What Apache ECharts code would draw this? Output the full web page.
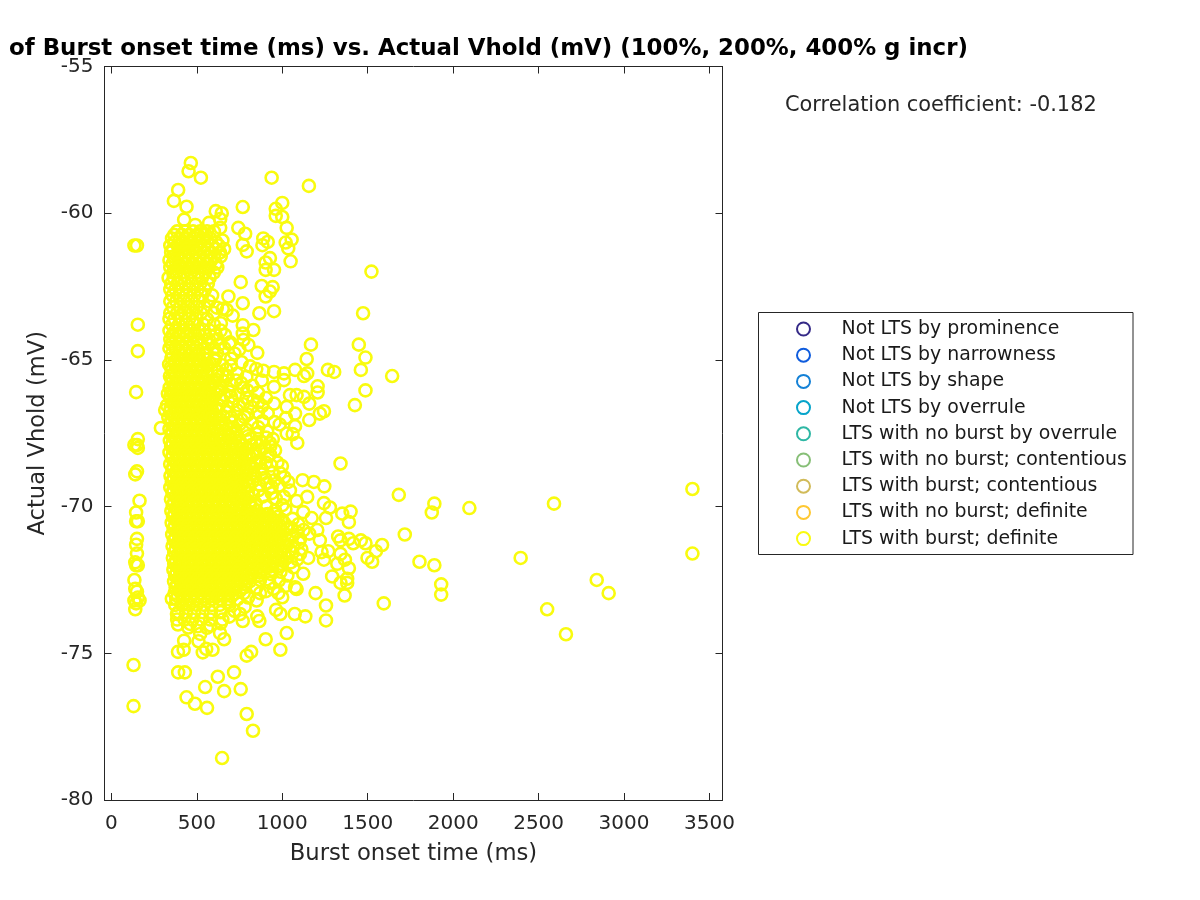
<!DOCTYPE html>
<html><head><meta charset="utf-8">
<style>html,body{margin:0;padding:0;background:#fff}#c{width:1200px;height:900px}</style>
<script src="https://cdn.jsdelivr.net/npm/echarts@6/dist/echarts.min.js"></script>
</head><body><div id="c"></div>
<script>
const categories = ["Not LTS by prominence","Not LTS by narrowness","Not LTS by shape","Not LTS by overrule","LTS with no burst by overrule","LTS with no burst; contentious","LTS with burst; contentious","LTS with no burst; definite","LTS with burst; definite"];
const categoryColors = ["#352a87","#0f5cdd","#1481d6","#06a4ca","#2eb7a4","#87bf77","#d1bb59","#fec832","#f9fb0e"];
const xTicks = [0,500,1000,1500,2000,2500,3000,3500];
const titleText = "of Burst onset time (ms) vs. Actual Vhold (mV) (100%, 200%, 400% g incr)";
const corrText = "Correlation coefficient: -0.182";

// short-onset column: [burst onset ms, Vhold mV]
const leftColumn = [[135,-61.1],[150,-61.1],[155,-63.8],[155,-64.7],[145,-66.1],[155,-67.7],[150,-67.9],[135,-67.9],[155,-68],[150,-68.8],[140,-68.9],[165,-69.8],[145,-70.2],[145,-70.5],[155,-70.5],[150,-71.1],[145,-71.3],[150,-71.6],[140,-71.9],[155,-72],[145,-72],[135,-72.5],[140,-72.8],[150,-72.9],[155,-73.1],[165,-73.2],[135,-73.2],[145,-73.3],[140,-73.5],[130,-75.4],[130,-76.8]];

// individually readable rings above the dense mass
const upperRings = [[465,-58.29],[452,-58.57],[524,-58.79],[938,-58.79],[1156,-59.07],[391,-59.21],[366,-59.58],[440,-59.78],[1000,-59.65],[962,-59.85],[769,-59.79],[611,-59.93],[646,-60],[962,-60.09],[1000,-60.13],[637,-60.2],[426,-60.22],[491,-60.4],[572,-60.33],[1026,-60.5],[743,-60.5],[637,-60.5],[783,-60.7],[889,-60.86],[915,-60.98],[884,-61.09],[1055,-60.9],[1020,-61],[1035,-61.2],[769,-61.08],[792,-61.3],[650,-60.93],[1049,-61.64],[928,-61.53],[903,-61.68],[952,-61.93],[903,-61.93],[1522,-61.99],[757,-62.35],[880,-62.48],[944,-62.52],[928,-62.67],[903,-62.84],[685,-62.84],[769,-63.07],[617,-63.22],[652,-63.26],[675,-63.3],[866,-63.41],[952,-63.34],[1473,-63.41],[710,-63.49],[641,-63.75],[769,-63.82],[831,-63.98],[769,-64.1],[1168,-64.48],[1448,-64.48],[695,-64.4],[773,-64.32],[802,-64.49],[749,-64.64],[854,-64.76],[1487,-64.92],[1143,-64.97],[1460,-65.34],[1643,-65.55],[1267,-65.34],[1304,-65.41],[1075,-65.34],[1146,-65.46],[1127,-65.55],[1010,-65.46],[1010,-65.69],[952,-65.41],[889,-65.37],[952,-65.92],[1207,-65.9],[1207,-66.11],[1487,-66.04],[1425,-66.54],[1045,-66.2],[1084,-66.2],[1127,-66.26],[1158,-66.49],[952,-66.49],[1026,-66.6],[1244,-66.75],[1220,-66.83],[1075,-66.83],[1022,-66.98],[1158,-67.05],[1075,-67.26],[1026,-67.51],[1061,-67.53],[1088,-67.83],[290,-67.32],[315,-66.71],[928,-67.83],[928,-68.22],[1341,-68.53],[987,-68.86]];

// individually readable rings below and right of the dense mass
const lowerRings = [[1119,-69.1],[1185,-69.16],[1246,-69.31],[1035,-69.16],[1045,-69.45],[1146,-69.67],[1084,-69.81],[1682,-69.6],[1010,-69.67],[938,-69.33],[938,-69.54],[1244,-69.88],[1279,-70.03],[1400,-70.17],[1351,-70.24],[1390,-70.53],[1256,-70.39],[1172,-70.39],[1123,-70.19],[1717,-70.95],[1205,-70.8],[1158,-70.92],[1104,-71.1],[1220,-71.15],[1327,-71.02],[1341,-71.15],[1390,-71.1],[1415,-71.25],[1460,-71.15],[1487,-71.25],[1584,-71.31],[1548,-71.52],[1499,-71.75],[1526,-71.88],[1803,-71.88],[1269,-71.52],[1230,-71.55],[1244,-71.81],[1152,-71.75],[1104,-71.61],[1341,-71.61],[1367,-71.81],[1322,-71.95],[1390,-72.1],[1065,-72.07],[1123,-72.29],[1292,-72.38],[1380,-72.46],[1380,-72.6],[1341,-72.6],[1075,-72.75],[1084,-72.81],[1195,-72.95],[1365,-73.03],[1594,-73.3],[1256,-73.37],[977,-72.95],[1000,-73.09],[870,-72.95],[964,-73.52],[989,-73.66],[1073,-73.66],[1135,-73.74],[1256,-73.88],[753,-73.66],[769,-73.9],[866,-73.9],[854,-73.74],[1026,-74.31],[903,-74.52],[989,-74.88],[636,-74.31],[660,-74.52],[520,-74.34],[510,-74.59],[559,-74.13],[426,-74.57],[390,-74.95],[423,-74.88],[535,-74.97],[555,-74.85],[592,-74.88],[818,-74.95],[792,-75.08],[391,-75.65],[430,-75.65],[718,-75.65],[623,-75.8],[549,-76.15],[660,-76.29],[757,-76.22],[440,-76.5],[489,-76.72],[560,-76.86],[792,-77.07],[829,-77.64],[648,-78.57],[354,-73.14],[390,-74.02],[384,-73.66],[461,-74],[368,-71.94],[685,-73.26]];

// far-right stragglers
const farRings = [[3400,-69.4],[3400,-71.6],[2910,-72.95],[2840,-72.5],[2660,-74.35],[2550,-73.5],[2590,-69.9],[2395,-71.75],[2095,-70.05],[1890,-69.9],[1875,-70.2],[1890,-72],[1930,-72.65],[1930,-73]];

// ring texture along the right edge of the mass, estimated
const textureRings = [[605,-65.02],[648,-65.18],[701,-64.96],[762,-65.08],[812,-65.22],[625,-65.41],[672,-65.33],[735,-65.47],[790,-65.58],[848,-65.31],[610,-65.66],[655,-65.72],[705,-65.84],[760,-65.79],[825,-65.88],[880,-65.7],[632,-66.02],[690,-66.09],[742,-66.18],[796,-66.04],[858,-66.12],[905,-66.3],[598,-66.28],[650,-66.37],[712,-66.42],[770,-66.51],[832,-66.38],[882,-66.57],[622,-66.66],[672,-66.78],[735,-66.71],[798,-66.86],[858,-66.79],[915,-66.82],[588,-66.98],[640,-67.04],[702,-67.12],[760,-67.03],[822,-67.16],[885,-67.09],[955,-67.12],[612,-67.33],[665,-67.41],[728,-67.46],[790,-67.38],[850,-67.52],[912,-67.44],[985,-67.2],[590,-67.64],[645,-67.72],[695,-67.6],[752,-67.76],[815,-67.68],[878,-67.82],[945,-67.7],[790,-68.02],[842,-68.1],[895,-68],[958,-68.08],[812,-68.34],[868,-68.42],[918,-68.28],[972,-68.5],[826,-68.66],[880,-68.72],[935,-68.6],[998,-68.62],[842,-68.96],[898,-69.02],[955,-69.1],[1012,-69],[808,-69.3],[865,-69.24],[925,-69.38],[982,-69.28],[830,-69.6],[885,-69.66],[962,-69.72],[1000,-69.95],[845,-69.9],[905,-70],[958,-70.14],[1018,-70.1],[900,-70.28],[1060,-70.42],[1095,-70.6],[1052,-70.72],[1085,-70.86],[1125,-70.8],[1060,-71.02],[1098,-71.22],[1065,-71.34],[1112,-71.45],[1060,-71.58],[1088,-71.8],[1050,-71.9],[880,-72.2],[935,-72.3],[990,-72.22],[1030,-72.35],[870,-72.5],[925,-72.6],[980,-72.52],[1020,-72.7],[850,-72.76],[905,-72.88],[950,-72.8],[800,-73.1],[850,-73.2],[780,-73.42],[720,-73.55],[690,-73.75],[640,-73.98],[580,-74.05],[505,-74.08],[450,-74.12]];

// extra estimated rings filling the shoulder of the mass between -65 and -70 mV
const shoulderRings = [[575,-65.12],[618,-65.55],[590,-65.85],[640,-65.95],[570,-66.1],[612,-66.15],[660,-66.2],[585,-66.5],[630,-66.55],[680,-66.6],[575,-66.85],[610,-66.9],[655,-66.92],[700,-66.95],[625,-67.15],[670,-67.22],[715,-67.3],[590,-67.4],[640,-67.52],[685,-67.55],[725,-67.65],[610,-67.8],[660,-67.88],[765,-67.9],[700,-67.35],[750,-67.2],[780,-66.95],[745,-66.55],[700,-66.25],[800,-67.6],[820,-67.9],[850,-67.8],[790,-68.2],[830,-68.25],[805,-68.55],[848,-68.5],[795,-68.8],[830,-68.85],[880,-68.9],[790,-69.1],[825,-69.15],[860,-69.45],[910,-69.2],[905,-68.5],[940,-68.85],[870,-68.1],[930,-67.95],[905,-67.65],[860,-67.3],[820,-66.6],[860,-66.45],[790,-66.3],[770,-65.95],[730,-65.7],[680,-65.55],[650,-65.5],[700,-65.2]];

// estimated upper mass, rows of [Vhold mV, onset ms, onset ms, ...]
const upperMassRows = [
[-60.62,385,430,478,520,560,600],
[-60.74,368,412,455,505,552],
[-60.86,355,400,445,490,535,580],
[-60.98,372,418,468,512,562,612],
[-61.1,345,388,428,462,505,548,590,628],
[-61.22,360,398,440,482,525,565,610,660],
[-61.34,350,412,452,496,538,582,635],
[-61.47,366,385,425,470,510,555,600,640],
[-61.6,340,372,412,455,498,540,585],
[-61.72,358,394,436,478,520,566,612],
[-61.85,345,395,438,480,522,570,620],
[-62.02,362,380,420,462,505,550,600],
[-62.2,335,365,405,445,490,530,575],
[-62.4,350,388,430,475,520,565],
[-62.6,345,375,415,458,505,548],
[-62.8,358,395,440,485,530,590],
[-63,345,380,425,470,515,572],
[-63.2,360,400,450,500,545],
[-63.4,345,385,430,475,525,600],
[-63.6,340,370,410,455,500,560],
[-63.8,355,395,440,485,540,600],
[-64,340,375,420,465,515,575,640],
[-64.15,358,395,440,490,545,610,665],
[-64.3,345,378,420,462,510,570,622],
[-64.45,352,392,434,478,522,566,638,690],
[-64.6,340,374,412,456,498,548,600,660],
[-64.78,356,396,430,470,512,558,618,720]
];

// estimated solid core, rows of [Vhold mV, onset ms, onset ms, ...]
const coreRows = [
[-64.95,352,389,423,461,499,543,604],
[-65.15,338,372,407,441,478,519,561],
[-65.35,355,393,429,466,503,538,586],
[-65.55,343,376,411,447,483,524,565],
[-65.75,358,395,431,469,507,546,598],
[-65.95,341,374,409,445,486,527,572],
[-66.15,331,362,399,436,472,511,553],
[-66.35,349,383,418,456,493,533,579],
[-66.55,326,366,402,439,476,516,561],
[-66.75,344,379,414,452,489,529,590],
[-66.95,333,369,404,443,481,521,566],
[-67.15,351,386,422,458,497,537,583],
[-67.35,340,375,412,449,487,526,571],
[-67.55,353,391,427,464,502,544,596],
[-67.75,342,377,415,451,491,532,574],
[-67.95,350,386,423,458,495,531,569,607,645,688,735],
[-68.15,340,377,412,449,486,522,560,598,637,676,720,770],
[-68.35,355,391,427,464,500,537,575,613,652,695,741],
[-68.55,344,381,417,453,491,527,565,603,642,682,727,778],
[-68.75,357,394,431,468,505,542,581,619,660,701,748],
[-68.95,346,383,420,456,494,531,570,608,648,689,733,785],
[-69.15,354,391,428,465,502,540,578,617,656,698,744],
[-69.35,345,382,418,455,492,530,568,606,646,687,731,780],
[-69.55,358,395,432,469,506,544,583,622,662,704,752,800],
[-69.75,349,386,422,459,497,535,573,612,651,693,739,788],
[-69.95,359,396,434,471,509,548,587,626,667,710,757,812],
[-70.15,351,388,425,462,500,538,577,616,656,699,745,795,850],
[-70.35,361,398,435,473,511,549,588,627,667,708,751,795,838,882,928,975],
[-70.55,353,391,428,465,503,541,580,619,659,699,741,785,829,873,918,964,1010],
[-70.75,364,401,439,477,515,554,593,632,672,713,756,800,844,889,935,982,1028],
[-70.95,356,394,431,469,507,546,585,624,664,705,747,791,835,879,925,971,1018],
[-71.15,366,404,442,480,518,557,596,635,675,716,759,803,848,893,940,987,1034],
[-71.35,358,396,433,471,510,548,587,626,666,707,750,794,838,883,929,976,1022],
[-71.55,368,406,444,482,520,559,598,637,677,718,761,806,851,896,943,990],
[-71.75,360,398,436,474,512,551,590,629,669,710,753,797,841,886,932,979,1026],
[-71.95,370,408,446,484,522,561,600,639,679,721,764,808,853,898,946,995],
[-72.15,363,401,439,477,515,554,593,632,672,713,756,800,845,892,940],
[-72.35,373,411,449,487,525,564,603,642,682,724,768,815,865],
[-72.55,367,405,443,481,519,558,597,636,676,718,762,810],
[-72.75,376,414,452,490,529,568,607,647,688,731,778],
[-72.95,370,408,446,484,523,562,601,641,682,726,775],
[-73.15,380,420,461,503,546,590,636,684,738],
[-73.35,374,414,456,499,543,588,635,690],
[-73.6,392,438,485,533,583,640],
[-73.85,385,428,474,524,578,650]
];

// more estimated rings packed between the core rows
const coreFillRows = [
[-65.05,370,406,444,482,523],
[-65.25,349,387,425,460,498,540],
[-65.45,367,405,441,480,518,560],
[-65.65,352,392,428,465,505,546],
[-65.85,372,410,447,488,525,570],
[-66.05,356,390,427,464,504,548],
[-66.25,345,381,417,454,492,532,575],
[-66.45,366,400,437,474,512,553],
[-66.65,348,384,420,458,496,538,585],
[-66.85,360,396,433,470,508,548],
[-67.05,350,386,423,462,500,543,590],
[-67.25,368,404,440,478,516,560],
[-67.45,356,393,430,468,506,549],
[-67.65,372,409,445,483,522,570],
[-67.85,358,396,433,472,512,552,590,625,665,710],
[-68.05,368,404,440,477,513,550,588,627,668,712,755],
[-68.25,358,394,430,467,504,541,579,618,657,698,745],
[-68.45,373,409,445,482,518,556,594,632,673,718,762],
[-68.65,362,399,435,472,509,546,584,623,662,704,752],
[-68.85,375,412,449,486,524,561,600,639,680,725,770],
[-69.05,364,400,437,474,512,550,589,628,669,713,760],
[-69.25,372,409,446,483,521,559,598,636,677,720,765],
[-69.45,363,400,436,473,511,549,587,626,666,708,755],
[-69.65,376,413,450,487,525,563,602,642,683,728,776],
[-69.85,367,404,440,478,516,554,592,631,672,716,763,810],
[-70.05,377,415,452,490,528,567,606,646,688,733,782,830],
[-70.25,369,406,443,481,519,557,596,636,677,722,770,820,870,915,960],
[-70.45,380,416,454,492,530,568,607,647,687,729,773,816,860,905,951,998],
[-70.65,372,409,446,484,522,560,599,639,679,720,763,807,851,895,941,987],
[-70.85,382,420,458,496,534,573,612,652,692,734,778,822,866,912,958,1005],
[-71.05,375,412,450,488,526,565,604,644,684,726,769,813,857,902,948,995],
[-71.25,385,423,461,499,537,576,615,655,696,737,781,825,870,916,963,1010],
[-71.45,377,414,452,490,529,568,606,646,686,728,772,816,860,906,952,1000],
[-71.65,387,425,463,501,539,578,617,657,698,740,783,828,873,919,966,1012],
[-71.85,379,417,455,493,531,570,609,649,690,731,775,819,863,909,955,1002],
[-72.05,389,427,465,503,541,580,619,659,700,742,786,830,875,922,970],
[-72.25,382,420,458,496,534,573,612,652,692,734,778,822,868],
[-72.45,392,430,468,506,544,583,622,662,703,746,792],
[-72.65,386,424,462,500,538,577,616,656,697,740,786],
[-72.85,395,433,471,509,548,587,627,667,709,754],
[-73.05,389,427,465,504,543,582,621,662,704]
];

function rowsToPairs(rows) {
  const out = [];
  rows.forEach(function (r) { for (let i = 1; i < r.length; i++) out.push([r[i], r[0]]); });
  return out;
}
const definiteBursts = rowsToPairs(upperMassRows).concat(rowsToPairs(coreRows), rowsToPairs(coreFillRows), shoulderRings, textureRings, leftColumn, upperRings, lowerRings, farRings);

const ink = "#262626", FONT = "DejaVu Sans";
const seriesList = categories.map(function (name, i) {
  return {
    name: name, type: "scatter", symbol: "circle", symbolSize: 12,
    xAxisIndex: 0, yAxisIndex: 0, large: false,
    itemStyle: { color: "transparent", borderColor: categoryColors[i], borderWidth: 2.6, opacity: 1 },
    data: i === categories.length - 1 ? definiteBursts : []
  };
});
const xBase = { type: "value", min: -40, max: 3576, splitLine: { show: false } };
const yBase = { type: "value", min: -80, max: -55, interval: 5, splitLine: { show: false } };
const option = {
  animation: false,
  backgroundColor: "#fff",
  textStyle: { fontFamily: FONT },
  title: [
    { text: titleText, left: 9, top: 38, padding: 0, textStyle: { fontFamily: FONT, fontSize: 22.9, fontWeight: "bold", color: "#000" } },
    { text: corrText, left: 785, top: 95, padding: 0, textStyle: { fontFamily: FONT, fontSize: 20.9, fontWeight: "normal", color: ink } }
  ],
  grid: { left: 104.5, top: 66.5, width: 618, height: 733.5, show: false },
  xAxis: [
    Object.assign({}, xBase, { position: "bottom", name: "Burst onset time (ms)", nameLocation: "middle", nameGap: 43,
      nameTextStyle: { fontFamily: FONT, fontSize: 22.7, color: ink },
      axisLine: { onZero: false, lineStyle: { color: ink, width: 1 } },
      axisTick: { inside: true, length: 7, lineStyle: { color: ink }, customValues: xTicks },
      axisLabel: { color: ink, fontFamily: FONT, fontSize: 20, margin: 14, customValues: xTicks, formatter: function (v) { return String(v); } } }),
    Object.assign({}, xBase, { position: "top",
      axisLine: { onZero: false, lineStyle: { color: ink, width: 1 } },
      axisTick: { inside: true, length: 7, lineStyle: { color: ink }, customValues: xTicks },
      axisLabel: { show: false } })
  ],
  yAxis: [
    Object.assign({}, yBase, { position: "left", name: "Actual Vhold (mV)", nameLocation: "middle", nameGap: 49,
      nameTextStyle: { fontFamily: FONT, fontSize: 22.6, color: ink },
      axisLine: { onZero: false, lineStyle: { color: ink, width: 1 } },
      axisTick: { inside: true, length: 7, lineStyle: { color: ink } },
      axisLabel: { color: ink, fontFamily: FONT, fontSize: 20, margin: 11, verticalAlignMinLabel: "middle", verticalAlignMaxLabel: "middle", padding: [6, 0, 0, 0] } }),
    Object.assign({}, yBase, { position: "right",
      axisLine: { onZero: false, lineStyle: { color: ink, width: 1 } },
      axisTick: { inside: true, length: 7, lineStyle: { color: ink } },
      axisLabel: { show: false } })
  ],
  legend: {
    show: true, orient: "vertical", left: 796, top: 319, padding: 0,
    itemWidth: 66, itemHeight: 13, itemGap: 6.2, icon: "circle",
    textStyle: { fontFamily: FONT, fontSize: 18.9, color: "#1a1a1a", lineHeight: 20 },
    data: categories
  },
  graphic: [{ type: "rect", silent: true, shape: { x: 758.5, y: 312.5, width: 374.5, height: 242 },
    style: { fill: "none", stroke: ink, lineWidth: 1 } }],
  series: seriesList
};
echarts.init(document.getElementById("c"), null, { renderer: "canvas" }).setOption(option);
</script></body></html>
